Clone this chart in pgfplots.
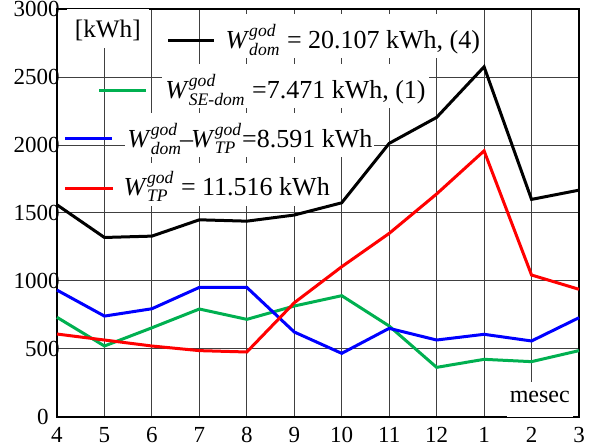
\documentclass[border=0pt]{standalone}
\usepackage{fontspec}
\setmainfont{Liberation Serif}
\newfontfamily\tickfont{Liberation Serif}
\usepackage{pgfplots}
\pgfplotsset{compat=1.18}
\definecolor{cgreen}{RGB}{0,176,80}
\newcommand{\SSc}[2]{$^{\mbox{\fontsize{8.8}{9}\selectfont\itshape #1}}_{\mbox{\fontsize{8.8}{9}\selectfont\itshape #2}}$}
\newcommand{\Wg}[1]{\textit{W}\SSc{god}{#1}}
\newcommand{\tl}[1]{{\tickfont\fontsize{11.5}{13}\selectfont #1}}
\begin{document}
\begin{tikzpicture}
\begin{axis}[name=ax, scale only axis, width=261pt, height=204pt,
  xmin=0, xmax=11, ymin=0, ymax=3000,
  xtick={0,...,11},
  xticklabels={\tl{4},\tl{5},\tl{6},\tl{7},\tl{8},\tl{9},\tl{10},\tl{11},\tl{12},\tl{1},\tl{2},\tl{3}},
  ytick={0,500,...,3000},
  yticklabels={\tl{0\kern5.5pt},\tl{500},\tl{1000},\tl{1500},\tl{2000},\tl{2500},\tl{3000}},
  grid=major, major grid style={black!75, line width=0.5pt},
  major tick length=0pt,
  axis line style={line width=0.8pt},
  tick label style={font=\tickfont\fontsize{11.5}{13}\selectfont},
  yticklabel style={inner xsep=0pt, xshift=1.5pt},
  xticklabel style={yshift=-1.5pt},
  clip=false]
\tikzset{lab/.style={fill=white, inner ysep=0pt, text height=17pt, text depth=4.8pt, anchor=base west, font=\fontsize{13}{15}\selectfont}}
\node[lab, inner xsep=4pt, text height=14.5pt, text depth=5pt, font=\fontsize{12.6}{15}\selectfont] at (axis cs:0.2,2787) {[kWh]};
\node[lab, inner xsep=2pt] at (axis cs:3.46,2713) {\Wg{dom} = 20.107 kWh, (4)};
\node[lab, inner xsep=1.5pt] at (axis cs:2.21,2345) {\Wg{SE-dom} =7.471 kWh, (1)};
\node[lab, inner xsep=1pt] at (axis cs:1.43,1985) {\Wg{dom}\hspace{-1pt}--\hspace{-1pt}\Wg{TP}=8.591 kWh};
\node[lab, inner xsep=1.5pt, text height=16pt, text depth=5.5pt] at (axis cs:1.33,1632) {\Wg{TP} = 11.516 kWh};
\node[lab, inner xsep=1.5pt, text height=10.5pt, text depth=7pt, font=\fontsize{12}{14}\selectfont] at (axis cs:9.47,103) {mesec};
\draw[black, line width=1.5pt] (axis cs:2.34,2767) -- (axis cs:3.31,2767);
\draw[cgreen, line width=1.5pt] (axis cs:0.89,2400) -- (axis cs:1.87,2400);
\draw[blue, line width=1.5pt] (axis cs:0.17,2050) -- (axis cs:1.16,2050);
\draw[red, line width=1.5pt] (axis cs:0.17,1680) -- (axis cs:1.18,1680);
\addplot[black, line width=1.5pt] coordinates {(0,1560)(1,1320)(2,1330)(3,1450)(4,1440)(5,1485)(6,1575)(7,2012)(8,2203)(9,2575)(10,1600)(11,1668)};
\addplot[cgreen, line width=1.5pt] coordinates {(0,733)(1,522)(2,656)(3,794)(4,718)(5,816)(6,892)(7,669)(8,365)(9,424)(10,407)(11,488)};
\addplot[blue, line width=1.5pt] coordinates {(0,933)(1,742)(2,796)(3,953)(4,953)(5,625)(6,468)(7,652)(8,566)(9,608)(10,559)(11,730)};
\addplot[red, line width=1.5pt] coordinates {(0,610)(1,566)(2,522)(3,488)(4,478)(5,840)(6,1105)(7,1350)(8,1640)(9,1957)(10,1044)(11,939)};
\end{axis}
\pgfresetboundingbox
\path[use as bounding box] ([xshift=-28.5pt,yshift=-14pt]ax.south west) rectangle ([xshift=5.5pt,yshift=4.5pt]ax.north east);
\end{tikzpicture}
\end{document}
